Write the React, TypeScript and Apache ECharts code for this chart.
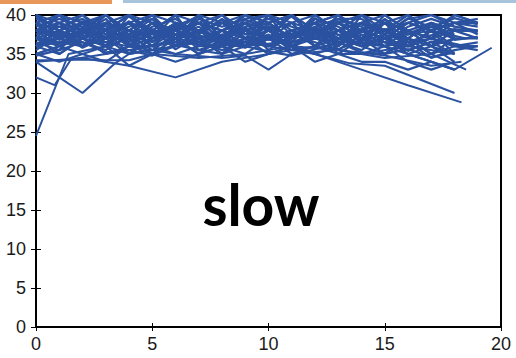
import React, { useEffect, useRef } from "react";
import * as echarts from "echarts";

const xTicks = [0, 5, 10, 15, 20];
const yTicks = [0, 5, 10, 15, 20, 25, 30, 35, 40];
const xs = [0, 1, 2, 3, 4, 5, 6, 7, 8, 9, 10, 11, 12, 13, 14, 15, 16, 17, 18, 19];

const runs: number[][] = [
  [38, 39, 37, 40, 38, 36, 39, 38, 40, 37, 38, 39, 36, 38, 40, 37, 39, 38, 39, 38.5],
  [36, 37, 39, 38, 35, 37, 38, 36, 37, 39, 38, 36, 37, 39, 37, 38, 36, 38, 37],
  [40, 38, 36, 37, 39, 40, 37, 39, 38, 36, 40, 38, 39, 37, 38, 36, 38, 37, 40, 39],
  [35, 36, 35, 34, 36, 35, 37, 35, 36, 37, 35, 36, 38, 35, 37, 36, 35, 36, 34],
  [37, 40, 38, 39, 37, 38, 36, 40, 39, 38, 37, 40, 38, 36, 39, 38, 37, 39, 38, 38],
  [39, 37, 38, 36, 40, 39, 38, 37, 35, 38, 39, 37, 40, 38, 36, 39, 38, 36, 37],
  [38, 36, 39, 37, 38, 40, 36, 38, 37, 39, 36, 38, 37, 40, 38, 39, 36, 37, 36, 36],
  [36, 38, 37, 39, 36, 37, 39, 38, 36, 37, 40, 39, 36, 38, 37, 35, 37, 36, 35],
  [40, 39, 40, 38, 39, 38, 40, 39, 38, 40, 39, 40, 38, 39, 40, 38, 39, 40, 39, 39.5],
  [37, 36, 38, 36, 37, 35, 36, 37, 38, 36, 37, 36, 35, 36, 38, 37, 35, 34, 33],
  [39, 40, 37, 38, 40, 37, 38, 40, 37, 38, 36, 37, 39, 40, 37, 39, 40, 38, 39, 37.5],
  [35, 34, 35, 36, 33.5, 35, 34, 35, 36, 34, 35, 36, 34, 35, 35, 36, 34, 33, 34],
  [38, 37, 36, 39, 38, 36, 37, 38, 39, 37, 38, 40, 37, 36, 38, 37, 39, 38, 36, 36.5],
  [36, 39, 38, 37, 39, 38, 40, 36, 38, 39, 37, 38, 36, 39, 37, 40, 38, 36, 38],
  [40, 38, 39, 40, 37, 39, 38, 39, 40, 38, 37, 39, 40, 38, 39, 38, 40, 37, 39, 39],
  [37, 35, 37, 38, 36, 38, 37, 35, 37, 36, 39, 37, 38, 37, 36, 37, 36, 38, 35],
  [39, 38, 40, 37, 39, 36, 39, 38, 39, 40, 38, 37, 39, 36, 40, 39, 37, 39, 38, 38],
  [36, 37, 36, 38, 37, 39, 36, 37, 35, 37, 36, 38, 37, 38, 36, 35, 37, 35, 36],
  [38, 40, 39, 36, 38, 40, 39, 37, 38, 39, 40, 36, 38, 39, 37, 38, 39, 38, 40, 39],
  [35, 36, 37, 35, 36, 36, 35, 36, 36, 35, 37, 35, 36, 35, 34, 34, 33, 34, 33],
  [40, 37, 38, 39, 40, 38, 37, 39, 36, 38, 39, 40, 37, 38, 39, 40, 38, 39, 37, 37],
  [37, 38, 36, 37, 35, 37, 39, 38, 37, 36, 38, 39, 38, 37, 38, 36, 37, 35, 37],
  [39, 36, 38, 40, 38, 37, 40, 36, 39, 38, 37, 38, 39, 40, 38, 37, 38, 36, 38, 37],
  [38, 39, 36, 38, 37, 39, 37, 40, 36, 39, 38, 36, 38, 37, 39, 38, 37, 39, 37],
  [36, 35, 37, 36, 38, 36, 38, 36, 38, 37, 36, 38, 36, 37, 36, 37, 38, 37, 36, 35.5],
  [39, 40, 39, 38, 36, 39, 38, 39, 37, 40, 39, 37, 39, 38, 37, 39, 36, 38, 39],
  [37.5, 38.5, 39.5, 37.5, 38.5, 39.5, 37.5, 38.5, 36.5, 38.5, 39.5, 38.5, 37.5, 39.5, 38.5, 36.5, 38.5, 39.5, 38.5, 38],
  [35.5, 37.5, 36.5, 35.5, 37.5, 36.5, 38.5, 35.5, 36.5, 38.5, 35.5, 37.5, 36.5, 35.5, 37.5, 36.5, 35.5, 36.5, 35],
  [39.5, 38.5, 37.5, 39.5, 36.5, 38.5, 39.5, 37.5, 39.5, 37.5, 38.5, 36.5, 39.5, 38.5, 36.5, 39.5, 37.5, 38.5, 37.5],
  [36.5, 35.5, 38.5, 36.5, 37.5, 35.5, 37.5, 36.5, 35.5, 36.5, 37.5, 35.5, 38.5, 36.5, 35.5, 37.5, 36.5, 34.5, 35.5, 36],
  [38.5, 39.5, 38.5, 40, 37.5, 39.5, 36.5, 39.5, 38.5, 39.5, 40, 37.5, 38.5, 39.5, 39.5, 37.5, 39.5, 40, 38.5],
  [34.8, 35.5, 36.5, 35.2, 35.5, 34.8, 36.2, 35.5, 35, 36, 35.3, 34.8, 35.6, 36.5, 35.2, 35, 35.6, 34.6, 35.2],
  [37.2, 36.4, 37.8, 38.6, 36.2, 37.6, 38.8, 36.6, 37.4, 38.2, 36.8, 37.6, 38.4, 36.4, 37.8, 38.2, 36.6, 37.4, 38.2, 37.8],
  [39.8, 37.2, 39.2, 38.2, 39.8, 37.8, 38.6, 39.8, 37.2, 39.4, 38.2, 39.8, 37.4, 39.2, 38.8, 37.6, 39.6, 38.4, 39.6, 38.8],
  [36.2, 37.8, 35.8, 37.2, 36.6, 38.2, 35.6, 37.4, 36.4, 35.8, 37.2, 36.4, 37.8, 35.6, 36.8, 37.4, 35.4, 36.6, 36.2],
  [38.8, 36.8, 38.2, 37.2, 39.2, 36.6, 38.4, 37.8, 39.4, 36.8, 38.6, 37.2, 39.6, 37.4, 38.2, 39.4, 37.6, 38.8, 36.8, 37.2],
];

const specialX: number[][] = [
  [0, 1.4, 3, 5, 7, 9, 11, 13, 15, 17, 18.5],
  [0, 0.8, 1.5, 3, 5, 7, 9, 11, 13, 15, 17, 18.5],
  [0, 1, 2, 3.4, 4, 6, 8, 10, 12, 14, 16, 18],
  [0, 2, 4, 6, 8, 10, 12, 14, 16, 18],
  [0, 2, 4, 6, 8, 10, 12, 14, 16, 18.3],
  [0, 2, 4, 6, 8, 10, 12, 13.5, 15, 18],
  [0, 3, 6, 9, 12, 15, 17, 18, 19.6],
  [0, 2, 4, 6, 8, 9, 10, 11, 13, 15, 17, 18.5],
  [0, 1, 2, 3, 4, 5, 7, 9, 11, 13, 15, 17, 18.3],
];
const specialY: number[][] = [
  [24.5, 35, 36, 38, 37, 38, 36, 39, 37, 38, 37],
  [32, 31, 34.3, 35, 36, 37, 36, 38, 37, 36, 37, 36],
  [34, 32, 30, 33.8, 35, 36, 37, 36, 38, 37, 36, 38],
  [34, 34.5, 33.5, 32, 34, 35, 36, 35, 36, 35],
  [36, 37, 35, 36, 37, 36, 35, 33, 31, 28.8],
  [37, 36, 38, 37, 36, 37, 35, 33.8, 33.5, 30],
  [38, 37, 38, 36, 37, 36, 34, 33, 35.8],
  [38, 37, 36, 35, 34.5, 34.8, 33, 35, 35.5, 34.5, 35, 33],
  [34.2, 34.2, 34.3, 34.2, 34.2, 35, 34.5, 35, 36, 35.5, 34.8, 33.5, 34],
];

const LINE_COLOR = "#2a52a0";

export default function App() {
  const ref = useRef<HTMLDivElement>(null);
  useEffect(() => {
    if (!ref.current) return;
    const chart = echarts.init(ref.current, null, { renderer: "svg" });
    const series: any[] = [];
    runs.forEach((ys, i) => {
      series.push({
        type: "line",
        name: "r" + i,
        data: ys.map((y, j) => [xs[j], y]),
        showSymbol: false,
        lineStyle: { width: 2.2, color: LINE_COLOR },
        itemStyle: { color: LINE_COLOR },
        silent: true,
      });
    });
    specialX.forEach((sx, i) => {
      series.push({
        type: "line",
        name: "s" + i,
        data: sx.map((x, j) => [x, specialY[i][j]]),
        showSymbol: false,
        lineStyle: { width: 2, color: LINE_COLOR },
        itemStyle: { color: LINE_COLOR },
        silent: true,
      });
    });
    const tickLabel = {
      fontFamily: "Liberation Sans, Arial, sans-serif",
      fontSize: 18,
      color: "#1a1a1a",
    };
    chart.setOption({
      animation: false,
      grid: {
        left: 36,
        right: 15,
        top: 15,
        bottom: 31,
        show: true,
        borderColor: "#000",
        borderWidth: 2,
        backgroundColor: "transparent",
      },
      xAxis: [
        {
          type: "value",
          min: xTicks[0],
          max: xTicks[xTicks.length - 1],
          interval: 5,
          position: "bottom",
          axisLine: { show: true, lineStyle: { color: "#000", width: 2 } },
          axisTick: { show: true, inside: true, length: 4, lineStyle: { color: "#000", width: 1 } },
          axisLabel: { ...tickLabel, margin: 8 },
          splitLine: { show: false },
        },
        {
          type: "value",
          min: xTicks[0],
          max: xTicks[xTicks.length - 1],
          interval: 5,
          position: "top",
          axisLine: { show: false },
          axisTick: { show: true, inside: true, length: 4, lineStyle: { color: "#000", width: 1 } },
          axisLabel: { show: false },
          splitLine: { show: false },
        },
      ],
      yAxis: [
        {
          type: "value",
          min: yTicks[0],
          max: yTicks[yTicks.length - 1],
          interval: 5,
          position: "left",
          axisLine: { show: true, lineStyle: { color: "#000", width: 2 } },
          axisTick: { show: true, inside: true, length: 5, lineStyle: { color: "#000", width: 1 } },
          axisLabel: { ...tickLabel, margin: 10 },
          splitLine: { show: false },
        },
        {
          type: "value",
          min: yTicks[0],
          max: yTicks[yTicks.length - 1],
          interval: 5,
          position: "right",
          axisLine: { show: false },
          axisTick: { show: true, inside: true, length: 5, lineStyle: { color: "#000", width: 1 } },
          axisLabel: { show: false },
          splitLine: { show: false },
        },
      ],
      graphic: [
        { type: "rect", shape: { x: 0, y: 0, width: 112, height: 4 }, style: { fill: "#e8965a" } },
        { type: "rect", shape: { x: 123, y: 0, width: 393, height: 3 }, style: { fill: "#a8c4dc" } },
        {
          type: "text",
          x: 261,
          y: 175,
          style: {
            text: "slow",
            font: "bold 57px Lato, 'Noto Sans', sans-serif",
            fill: "#000",
            align: "center",
            verticalAlign: "top",
          },
          z: 100,
        },
      ],
      series,
    });
    return () => chart.dispose();
  }, []);
  return <div ref={ref} style={{ width: 516, height: 358, position: "absolute", left: 0, top: 0 }} />;
}
